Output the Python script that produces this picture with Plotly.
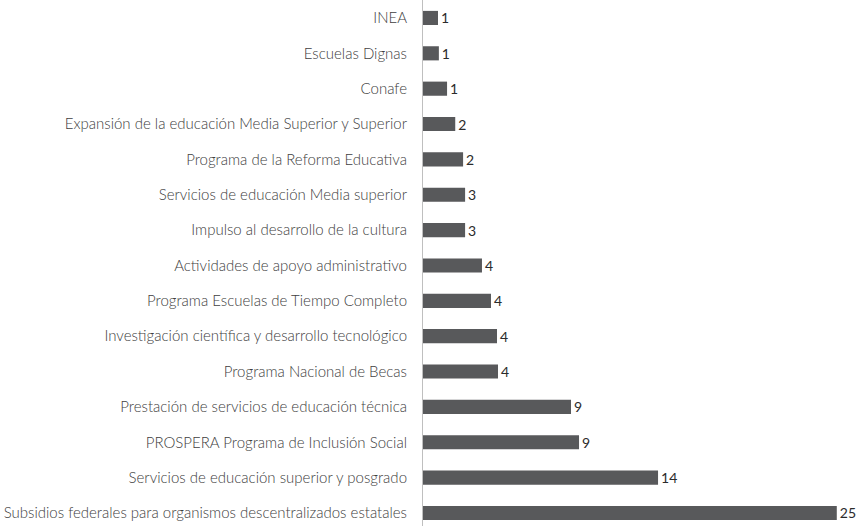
import plotly.graph_objects as go

categories = [
    "INEA",
    "Escuelas Dignas",
    "Conafe",
    "Expansión de la educación Media Superior y Superior",
    "Programa de la Reforma Educativa",
    "Servicios de educación Media superior",
    "Impulso al desarrollo de la cultura",
    "Actividades de apoyo administrativo",
    "Programa Escuelas de Tiempo Completo",
    "Investigación científica y desarrollo tecnológico",
    "Programa Nacional de Becas",
    "Prestación de servicios de educación técnica",
    "PROSPERA Programa de Inclusión Social",
    "Servicios de educación superior y posgrado",
    "Subsidios federales para organismos descentralizados estatales",
]
values = [0.9, 0.95, 1.44, 1.93, 2.4, 2.52, 2.52, 3.53, 4.07, 4.43, 4.49, 8.86, 9.34, 14.07, 24.77]
value_labels = ["1", "1", "1", "2", "2", "3", "3", "4", "4", "4", "4", "9", "9", "14", "25"]

# plot bottom-to-top order
cats_plot = categories[::-1]
vals_plot = values[::-1]
labs_plot = value_labels[::-1]

fig = go.Figure(go.Bar(
    y=cats_plot,
    x=vals_plot,
    orientation="h",
    marker=dict(color="#58595B", line=dict(width=0)),
    text=labs_plot,
    textposition="outside",
    constraintext="none",
    textfont=dict(family="Lato", size=14, color="#2b2b2b", weight=400),
    cliponaxis=False,
    width=0.4,
))

fig.update_layout(
    width=859,
    height=526,
    margin=dict(l=423, r=5, t=0, b=0),
    paper_bgcolor="white",
    plot_bgcolor="white",
    showlegend=False,
    font=dict(family="Lato", size=15, color="#404040"),
    xaxis=dict(range=[0, 25.8], visible=False, showgrid=False, zeroline=False),
    yaxis=dict(
        range=[-0.368, 14.508],
        showgrid=False,
        zeroline=False,
        showline=True,
        linecolor="#BFBFBF",
        linewidth=1,
        ticks="",
        ticklabelstandoff=12,
        tickfont=dict(family="Lato", size=15, color="#404040", weight=300),
    ),
)

fig.write_html(
    "out.html",
    config={"displayModeBar": False},
    post_script="document.body.style.margin='0';document.body.style.overflow='hidden';",
)
